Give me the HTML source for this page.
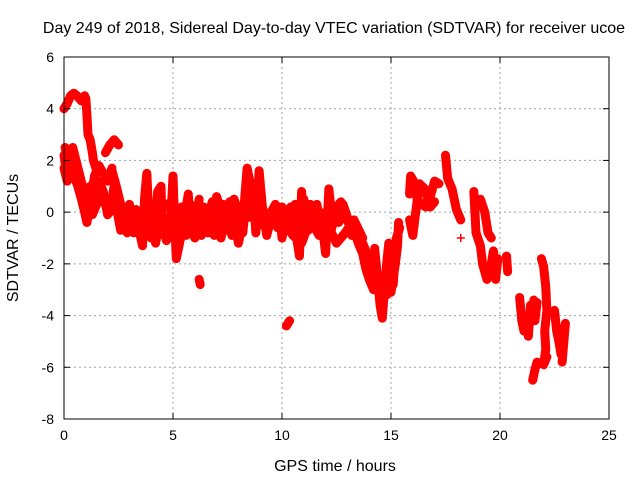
<!DOCTYPE html>
<html><head><meta charset="utf-8"><style>
body{margin:0;background:#fff}
svg{display:block;font-family:"Liberation Sans",sans-serif}
</style></head><body>
<svg id="c" width="640" height="480" viewBox="0 0 640 480">
<rect width="640" height="480" fill="#fff"/>
<text x="334" y="33" font-size="16" text-anchor="middle">Day 249 of 2018, Sidereal Day-to-day VTEC variation (SDTVAR) for receiver ucoe</text>
<text x="335" y="471" font-size="16" text-anchor="middle">GPS time / hours</text>
<text x="18" y="238" font-size="16" text-anchor="middle" transform="rotate(-90 18 238)">SDTVAR / TECUs</text>
<g id="grid"></g><g id="marks"></g><g id="axes"></g>
</svg>
<script>
const xTicks=[0,5,10,15,20,25];
const yTicks=[6,4,2,0,-2,-4,-6,-8];
// tracks: each is list of [hours, TECU]
const track1=[[0,4.0],[0.15,4.2],[0.3,4.5],[0.45,4.6],[0.6,4.5],[0.8,4.3],[0.95,4.5]];
const track2=[[1.0,4.4],[1.05,3.8],[1.1,3.0],[1.2,2.8],[1.3,2.3],[1.35,2.0],[1.5,1.6]];
const track3=[[0,2.2],[0.1,1.6],[0.2,2.3],[0.4,2.5],[0.55,2.0],[0.7,1.5],[0.85,1.0],[1.0,0.8]];
const track4=[[0,1.7],[0.15,1.2],[0.35,1.6],[0.6,1.1],[0.8,0.5],[0.95,0.0],[1.05,-0.4],[1.2,0.3],[1.4,1.4],[1.6,1.8],[1.8,1.5],[2.0,1.2],[2.2,1.7]];
const track5=[[0.9,0.8],[1.1,0.1],[1.3,-0.1],[1.5,0.3],[1.7,0.6],[1.9,0.3],[2.1,0.0],[2.2,0.5],[2.3,1.0]];
const track6=[[1.9,2.3],[2.1,2.6],[2.3,2.8],[2.5,2.6]];
const track7=[[2.2,1.6],[2.4,1.0],[2.6,0.3],[2.75,-0.6],[2.9,-0.8],[3.1,-0.2],[3.3,0.1],[3.5,-0.9],[3.6,-1.3],[3.7,0.6],[3.8,1.5],[3.9,-0.4],[4.0,-1.0],[4.2,-0.2],[4.3,0.8],[4.45,1.0],[4.5,-0.5],[4.7,-1.1],[4.9,-0.3],[5.0,1.4],[5.05,0.2],[5.15,-1.8],[5.3,-1.2],[5.5,-0.4],[5.7,0.7],[5.8,-0.6],[6.0,-1.0],[6.2,0.5]];
const track8=[[6.2,-2.6],[6.25,-2.8]];
const track9=[[6.3,-0.9],[6.6,-0.2],[6.8,0.4],[7.0,0.0],[7.2,-1.0],[7.4,-0.2],[7.6,0.4],[7.8,-0.3],[8.0,-1.2],[8.2,-0.4],[8.4,1.7],[8.55,1.1],[8.7,0.6],[8.8,-0.8],[8.95,1.6],[9.1,0.2],[9.3,-0.9],[9.5,-0.2],[9.7,-0.5],[9.9,0.0],[10.0,-1.0],[10.2,-0.1],[10.4,0.2],[10.6,-0.6],[10.8,-1.7],[10.9,0.8],[11.0,-0.4],[11.3,0.3],[11.5,-0.5],[11.8,-0.2],[12.0,-1.6],[12.15,0.9],[12.3,-0.3],[12.5,0.2],[12.7,0.4],[12.9,-0.2],[13.1,-0.5],[13.3,-0.7],[13.5,-1.2],[13.7,-1.6],[13.85,-2.2],[14.0,-2.6],[14.2,-3.0],[14.25,-1.4],[14.5,-3.6],[14.6,-4.1],[14.7,-3.0],[14.8,-2.0],[14.9,-1.2],[15.0,-3.1],[15.2,-2.0],[15.3,-1.3],[15.35,-0.4]];
const track10=[[10.2,-4.4],[10.35,-4.2]];
const track11=[[15.85,0.7],[15.9,1.4],[16.1,1.1],[16.2,0.5],[16.4,0.3],[16.6,0.2],[16.8,0.6],[17.0,1.2],[17.2,1.1]];
const track12=[[15.85,-0.3],[16.0,-0.9],[16.3,1.1],[16.55,0.9],[16.8,0.2],[17.0,0.4]];
const track13=[[17.5,2.2],[17.6,1.3],[17.8,0.9],[18.0,0.1],[18.2,-0.3]];
const track14=[[18.2,-1.0]];
const track15=[[18.8,0.8],[18.9,-0.8],[19.1,-1.3],[19.2,-2.0],[19.4,-2.6],[19.6,-2.0],[19.7,-1.5],[19.8,-2.6],[19.9,-1.8]];
const track16=[[19.1,0.5],[19.3,0.0],[19.45,-0.8],[19.6,-1.0]];
const track17=[[20.3,-1.7],[20.35,-2.3]];
const track18=[[20.9,-3.3],[21.0,-4.2],[21.1,-4.6],[21.2,-4.0],[21.3,-4.8],[21.4,-3.6]];
const track19=[[21.55,-3.4],[21.6,-4.2],[21.7,-3.5]];
const track20=[[21.5,-6.5],[21.6,-6.1],[21.7,-5.8]];
const track21=[[21.9,-1.8],[22.0,-2.1],[22.1,-2.9],[22.15,-3.8],[22.05,-4.6],[22.1,-5.3],[22.0,-5.9],[22.15,-5.6]];
const track22=[[22.5,-3.8],[22.6,-4.6],[22.7,-5.0],[22.8,-5.5],[22.9,-4.8],[23.0,-4.3],[22.85,-5.8]];
// extra density tracks
const track23=[[0.05,2.5],[0.2,1.9],[0.3,1.4],[0.5,1.3],[0.7,0.9],[0.9,0.4],[1.0,-0.2],[1.2,1.0],[1.4,0.7],[1.6,1.2],[1.8,0.8],[2.0,-0.1],[2.2,0.2],[2.4,0.6]];
const track24=[[2.4,0.2],[2.6,-0.7],[2.8,-0.2],[3.0,0.3],[3.2,-0.8],[3.4,-0.3],[3.6,-0.6],[3.8,0.3],[4.0,0.0],[4.2,-1.2],[4.4,-0.3],[4.6,-0.2],[4.8,-1.0],[5.0,-0.7],[5.2,-0.2],[5.4,0.2],[5.6,-0.9],[5.8,0.3],[6.0,0.0],[6.2,-0.5],[6.4,0.2],[6.6,-0.8],[6.8,-0.4],[7.0,0.6],[7.2,0.1],[7.4,-0.7],[7.6,-0.5],[7.8,0.5],[8.0,0.0],[8.2,-0.8],[8.4,0.8],[8.6,0.1],[8.8,0.8],[9.0,-0.5],[9.2,0.0],[9.4,-0.6],[9.6,0.1],[9.8,-0.6],[10.0,0.2],[10.2,-0.6],[10.4,-0.2],[10.6,0.3],[10.8,-0.2],[11.0,0.5],[11.2,-0.7],[11.4,-0.1],[11.6,0.3],[11.8,-0.7],[12.0,0.0],[12.2,-0.9],[12.4,-0.2],[12.6,-0.4],[12.8,0.3],[13.0,-0.2],[13.2,-0.9],[13.4,-0.6],[13.6,-1.0],[13.8,-1.4],[14.0,-1.9],[14.2,-2.4]];
const track25=[[3.5,-0.4],[3.7,-0.2],[4.1,-0.6],[4.5,0.1],[4.9,0.4],[5.3,-0.5],[5.7,-0.2],[6.1,-0.2],[6.5,-0.5],[6.9,-0.9],[7.3,0.3],[7.7,-0.9],[8.1,0.2],[8.5,-0.2],[8.9,0.4],[9.3,-0.3],[9.7,0.3],[10.1,-0.4],[10.5,-0.9],[10.9,-1.2],[11.3,-0.3],[11.7,-0.9],[12.1,-0.5],[12.5,-1.2],[12.9,-0.8],[13.3,-0.3],[13.7,-1.0]];
const track26=[[14.8,-3.2],[14.95,-2.5],[15.1,-2.8],[15.25,-1.0],[15.4,-0.6]];
const tracks=[track1,track2,track3,track4,track5,track6,track7,track8,track9,track10,track11,track12,track13,track14,track15,track16,track17,track18,track19,track20,track21,track22,track23,track24,track25,track26];

const X0=64,X1=609,Y0=419,Y1=57;
const xs=t=>X0+(t-0)/(25-0)*(X1-X0);
const ys=v=>Y0-(v+8)/(14)*(Y0-Y1);
const NS="http://www.w3.org/2000/svg";
function mk(tag,attrs,parent){const e=document.createElementNS(NS,tag);for(const k in attrs)e.setAttribute(k,attrs[k]);parent.appendChild(e);return e;}
const grid=document.getElementById('grid'),marks=document.getElementById('marks'),axes=document.getElementById('axes');
xTicks.forEach(t=>{const x=xs(t);
 if(t>0&&t<25){const g=mk('line',{x1:x,x2:x,y1:Y1,y2:Y0,stroke:'#a0a0a0','stroke-dasharray':'2,3'},grid);
 
 }
 mk('line',{x1:x,x2:x,y1:Y0,y2:Y0-6,stroke:'#000'},axes);mk('line',{x1:x,x2:x,y1:Y1,y2:Y1+6,stroke:'#000'},axes);
 const tx=mk('text',{x:x,y:Y0+21,'font-size':14,'text-anchor':'middle'},axes);tx.textContent=t;
 
 });
yTicks.forEach(v=>{const y=ys(v);
 if(v>-8&&v<6){const g=mk('line',{x1:X0,x2:X1,y1:y,y2:y,stroke:'#a0a0a0','stroke-dasharray':'2,3'},grid);
 
 }
 mk('line',{x1:X0,x2:X0+6,y1:y,y2:y,stroke:'#000'},axes);mk('line',{x1:X1,x2:X1-6,y1:y,y2:y,stroke:'#000'},axes);
 const tx=mk('text',{x:X0-10,y:y+5,'font-size':14,'text-anchor':'end'},axes);tx.textContent=v;
 
 });
const fr=mk('rect',{x:X0,y:Y1,width:X1-X0,height:Y0-Y1,fill:'none',stroke:'#000'},axes);


tracks.forEach(tr=>{
 const pl=mk('polyline',{points:tr.map(p=>xs(p[0])+','+ys(p[1])).join(' '),fill:'none',stroke:'#f00','stroke-width':9,'stroke-linejoin':'round','stroke-linecap':'round'},marks);
 
 
 tr.forEach(p=>{const x=xs(p[0]),y=ys(p[1]);
  const m=mk('path',{d:`M${x-4},${y}h8M${x},${y-4}v8`,stroke:'#f00','stroke-width':1.5},marks);
  
  });
});
</script>
</body></html>
